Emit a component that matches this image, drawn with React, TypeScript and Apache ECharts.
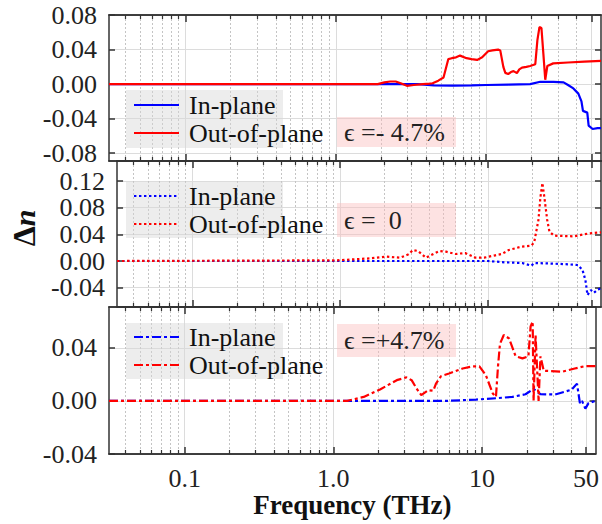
import React, { useEffect, useRef } from 'react';
import * as echarts from 'echarts';

const FONT = 'Liberation Serif';

// x axis (frequency, THz, log scale)
const xMin = 0.031;
const xMax = 58;
const majorTicks = [0.1, 1, 10, 50];
const majorLabels = ['0.1', '1.0', '10', '50'];
const minorTicks = [0.04, 0.05, 0.06, 0.07, 0.08, 0.09, 0.2, 0.3, 0.4, 0.5, 0.6, 0.7, 0.8, 0.9, 2, 3, 4, 5, 6, 7, 8, 9, 20, 30, 40];

// y axes
const yTicksTop = [-0.08, -0.04, 0, 0.04, 0.08];
const yRangeTop = [-0.089, 0.08];
const yTicksMid = [-0.04, 0, 0.04, 0.08, 0.12];
const yRangeMid = [-0.069, 0.15];
const yTicksBot = [-0.04, 0, 0.04];
const yRangeBot = [-0.04, 0.0707];

const strainLabels = ['ϵ =- 4.7%', 'ϵ =  0', 'ϵ =+4.7%'];
const legendNames = ['In-plane', 'Out-of-plane'];

// strain -4.7%
const inTopF = [0.031, 3.5, 4.5, 6, 8, 10, 14, 19.6, 22.9, 28, 32.7, 35, 38, 41, 43, 44, 47, 48, 51, 55, 58];
const inTopV = [0, 0, -0.0015, -0.0018, -0.0015, -0.001, -0.0005, 0, 0.0027, 0.0025, 0.002, -0.001, -0.005, -0.011, -0.02, -0.031, -0.033, -0.048, -0.052, -0.051, -0.051];
const outTopF = [0.031, 1.9, 2.1, 2.3, 2.5, 2.7, 2.97, 3.3, 3.8, 4.2, 4.4, 4.8, 5.2, 5.6, 5.9, 6.3, 6.7, 7.4, 8.0, 8.7, 9.4, 10.3, 11.0, 12.0, 12.4, 13.0, 13.4, 14.0, 14.6, 15.2, 16.0, 16.6, 17.3, 18.5, 19.6, 21.2, 21.9, 22.6, 23.3, 24.0, 24.7, 25.5, 27.9, 35, 45, 58];
const outTopV = [0, 0, 0.002, 0.003, 0.003, 0.001, -0.002, -0.001, 0, 0.0005, 0.001, 0.004, 0.0076, 0.029, 0.030, 0.031, 0.033, 0.030, 0.029, 0.028, 0.031, 0.038, 0.039, 0.040, 0.039, 0.02, 0.013, 0.0116, 0.014, 0.015, 0.0127, 0.017, 0.019, 0.020, 0.021, 0.023, 0.051, 0.066, 0.065, 0.035, 0.005, 0.021, 0.024, 0.025, 0.026, 0.027];

// strain 0
const inMidF = [0.031, 10, 13, 17, 19.6, 20.5, 27.9, 35, 40.5, 43.5, 45.5, 47, 49.5, 52, 55, 58];
const inMidV = [0, 0, -0.002, -0.003, -0.007, -0.003, -0.004, -0.005, -0.006, -0.0135, -0.0285, -0.051, -0.0435, -0.0475, -0.043, -0.041];
const outMidF = [0.031, 0.95, 1.6, 2.06, 2.55, 2.9, 3.1, 3.36, 3.8, 4.3, 4.7, 5.2, 6.0, 7.0, 8.2, 9.4, 11.2, 12.4, 13.8, 16.8, 19.6, 20.5, 21.9, 22.6, 23.3, 24.0, 25.1, 26.0, 27.9, 38, 47, 58];
const outMidV = [0, 0.001, 0.004, 0.0065, 0.005, 0.01, 0.0165, 0.015, 0.005, 0.011, 0.015, 0.014, 0.0105, 0.012, 0.005, 0.005, 0.0085, 0.0105, 0.0165, 0.0215, 0.023, 0.028, 0.0615, 0.096, 0.117, 0.096, 0.0615, 0.044, 0.038, 0.037, 0.041, 0.043];

// strain +4.7%
const inBotF = [0.031, 5.8, 9.1, 12.4, 16, 19.6, 22.2, 24.7, 31, 40, 43.5, 45.5, 47, 49.5, 52, 58];
const inBotV = [0, 0, 0.001, 0.002, 0.003, 0.005, 0.009, 0.005, 0.0048, 0.0084, 0.013, -0.0017, 0, -0.0058, -0.0017, 0];
const outBotF = [0.031, 1.24, 1.6, 2.06, 2.67, 3.1, 3.36, 3.63, 3.9, 4.35, 4.7, 4.9, 5.3, 6.0, 7.4, 8.7, 9.6, 10.6, 11.8, 12.4, 12.8, 13.2, 14.0, 15.2, 16.8, 18.7, 20.5, 21.2, 21.9, 22.2, 22.9, 24.0, 24.7, 26.0, 34.6, 42, 49.5, 58];
const outBotV = [0, 0, 0.003, 0.0086, 0.0156, 0.0177, 0.0156, 0.0093, 0.0043, 0.0081, 0.0076, 0.013, 0.0186, 0.0206, 0.0244, 0.026, 0.026, 0.0194, 0.0056, 0.003, 0.026, 0.043, 0.0496, 0.047, 0.0337, 0.032, 0.0335, 0.056, 0.0597, 0.0, 0.0496, 0.0, 0.0335, 0.0227, 0.022, 0.0244, 0.0262, 0.0262];

const App: React.FC = () => {
  const ref = useRef<HTMLDivElement>(null);

  useEffect(() => {
    if (!ref.current) return;
    const chart = echarts.init(ref.current, undefined, { renderer: 'svg' });

    const tops = [15, 161, 307];
    const heights = [146, 146, 147];
    const yTicks = [yTicksTop, yTicksMid, yTicksBot];
    const yRanges = [yRangeTop, yRangeMid, yRangeBot];
    const dashes: any[] = ['solid', [2.4, 2.6], [9, 3, 3, 3]];
    const panels = [
      [inTopF, inTopV, outTopF, outTopV],
      [inMidF, inMidV, outMidF, outMidV],
      [inBotF, inBotV, outBotF, outBotV],
    ];
    const axisColor = '#333';
    const textColor = '#222';
    const fs = 26;

    const grid: any[] = [];
    const xAxis: any[] = [];
    const yAxis: any[] = [];
    const series: any[] = [];
    const legend: any[] = [];
    const graphic: any[] = [];

    for (let g = 0; g < 3; g++) {
      grid.push({ left: 109, width: 492, top: tops[g], height: heights[g] });
      const isLast = g === 2;
      const baseX = {
        type: 'log',
        gridIndex: g,
        min: xMin,
        max: xMax,
        axisLine: { show: true, onZero: false, lineStyle: { color: axisColor, width: 1.5 } },
      };
      // bottom minor
      xAxis.push({
        ...baseX,
        position: 'bottom',
        axisTick: { show: true, inside: true, length: 4, customValues: minorTicks, lineStyle: { color: axisColor, width: 1.2 } },
        axisLabel: { show: false },
        splitLine: { show: true, lineStyle: { color: '#c4c4c4', width: 1, type: [2, 2] } },
      });
      // bottom major
      xAxis.push({
        ...baseX,
        position: 'bottom',
        axisTick: { show: true, inside: true, length: 7, customValues: majorTicks, lineStyle: { color: axisColor, width: 1.5 } },
        axisLabel: isLast
          ? {
              show: true,
              customValues: majorTicks,
              margin: 11,
              fontFamily: FONT,
              fontSize: fs,
              color: textColor,
              formatter: (v: number) => {
                const i = majorTicks.findIndex((t) => Math.abs(t - v) / t < 1e-6);
                return i >= 0 ? majorLabels[i] : '';
              },
            }
          : { show: false },
        splitLine: { show: true, lineStyle: { color: '#dcdcdc', width: 1 } },
        name: isLast ? 'Frequency (THz)' : '',
        nameLocation: 'middle',
        nameGap: 35,
        nameTextStyle: { fontFamily: FONT, fontSize: 27, fontWeight: 'bold', color: '#111' },
      });
      // top minor
      xAxis.push({
        ...baseX,
        position: 'top',
        axisTick: { show: true, inside: true, length: 4, customValues: minorTicks, lineStyle: { color: axisColor, width: 1.2 } },
        axisLabel: { show: false },
        splitLine: { show: false },
      });
      // top major
      xAxis.push({
        ...baseX,
        position: 'top',
        axisTick: { show: true, inside: true, length: 7, customValues: majorTicks, lineStyle: { color: axisColor, width: 1.5 } },
        axisLabel: { show: false },
        splitLine: { show: false },
      });

      const baseY = {
        type: 'value',
        gridIndex: g,
        min: yRanges[g][0],
        max: yRanges[g][1],
        axisLine: { show: true, onZero: false, lineStyle: { color: axisColor, width: 1.5 } },
        axisTick: { show: true, inside: true, length: 6, customValues: yTicks[g], lineStyle: { color: axisColor, width: 1.5 } },
      };
      yAxis.push({
        ...baseY,
        position: 'left',
        axisLabel: {
          show: true,
          customValues: yTicks[g],
          margin: 12,
          fontFamily: FONT,
          fontSize: fs,
          color: textColor,
          formatter: (v: number) => v.toFixed(2),
        },
        splitLine: { show: true, lineStyle: { color: '#dcdcdc', width: 1 } },
        name: g === 1 ? '{d|Δ}{n|n}' : '',
        nameLocation: 'middle',
        nameRotate: 90,
        nameGap: 72,
        nameTextStyle: {
          padding: [0, 0, 0, 12],
          rich: {
            d: { fontFamily: FONT, fontSize: 32, fontWeight: 'bold', color: '#111' },
            n: { fontFamily: FONT, fontSize: 30, fontWeight: 'bold', fontStyle: 'italic', color: '#111' },
          },
        },
      });
      yAxis.push({
        ...baseY,
        position: 'right',
        axisLabel: { show: false },
        splitLine: { show: false },
      });

      const [fi, vi, fo, vo] = panels[g];
      const nIn = legendNames[0] + '|' + g;
      const nOut = legendNames[1] + '|' + g;
      series.push({
        type: 'line',
        name: nIn,
        xAxisIndex: g * 4,
        yAxisIndex: g * 2,
        data: (fi as number[]).map((x, i) => [x, (vi as number[])[i]]),
        symbol: 'none',
        showSymbol: false,
        lineStyle: { color: '#0000ff', width: 2.2, type: dashes[g] },
        itemStyle: { color: '#0000ff' },
        z: 3,
      });
      series.push({
        type: 'line',
        name: nOut,
        xAxisIndex: g * 4,
        yAxisIndex: g * 2,
        data: (fo as number[]).map((x, i) => [x, (vo as number[])[i]]),
        symbol: 'none',
        showSymbol: false,
        lineStyle: { color: '#ff0000', width: 2.2, type: dashes[g] },
        itemStyle: { color: '#ff0000' },
        z: 4,
      });

      const boxTops = [90, 182, 323];
      const boxH = [58, 56, 56];
      const boxCenter = boxTops[g] + boxH[g] / 2;
      graphic.push({
        type: 'rect',
        shape: { x: 126, y: boxTops[g], width: 157, height: boxH[g] },
        style: { fill: 'rgba(215,215,215,0.45)' },
        z: 1,
        silent: true,
      });
      legend.push({
        orient: 'vertical',
        left: 133,
        top: boxCenter - 28,
        padding: 0,
        itemGap: 0,
        itemWidth: 45,
        itemHeight: 14,
        selectedMode: false,
        itemStyle: { opacity: 0 },
        data: [nIn, nOut],
        formatter: (name: string) => name.split('|')[0],
        textStyle: { fontFamily: FONT, fontSize: fs, color: '#111', lineHeight: 28, padding: [0, 0, 0, 5] },
      });

      const pinkTops = [117, 203, 324];
      const pinkH = [30, 34, 33];
      graphic.push({
        type: 'rect',
        shape: { x: 337, y: pinkTops[g], width: 119, height: pinkH[g] },
        style: { fill: 'rgba(250,185,185,0.42)' },
        z: 1,
        silent: true,
      });
      graphic.push({
        type: 'text',
        x: 344,
        y: pinkTops[g] + pinkH[g] / 2,
        style: {
          text: strainLabels[g],
          fontFamily: FONT,
          fontSize: fs,
          fill: '#222',
          verticalAlign: 'middle',
          align: 'left',
        },
        z: 5,
        silent: true,
      });
    }

    chart.setOption({
      animation: false,
      backgroundColor: '#ffffff',
      grid,
      xAxis,
      yAxis,
      series,
      legend,
      graphic,
    });

    return () => chart.dispose();
  }, []);

  return <div ref={ref} style={{ position: 'fixed', left: 0, top: 0, width: 602, height: 524 }} />;
};

export default App;
